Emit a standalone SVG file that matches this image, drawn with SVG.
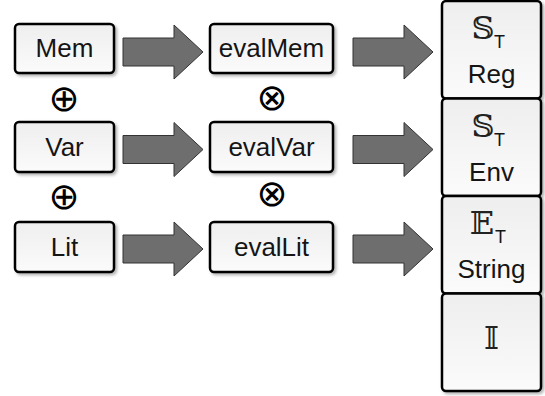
<svg xmlns="http://www.w3.org/2000/svg" width="545" height="396" viewBox="0 0 545 396">
<defs>
<linearGradient id="g" x1="0" y1="0" x2="0" y2="1">
<stop offset="0" stop-color="#eeeeee"/>
<stop offset="1" stop-color="#fbfbfb"/>
</linearGradient>
<filter id="sh" x="-10%" y="-10%" width="125%" height="130%">
<feDropShadow dx="2" dy="2" stdDeviation="1.5" flood-color="#000" flood-opacity="0.3"/>
</filter>
<path id="arr" d="M0,-14 H51 V-27 L80,0 L51,27 V14 H0 Z"/>
</defs>
<style>
.box{fill:url(#g);stroke:#000;stroke-width:2.5;filter:url(#sh)}
.lbl{font-family:"Liberation Sans",Arial,sans-serif;font-size:26px;fill:#151515;text-anchor:middle}
.sub{font-family:"Liberation Sans",Arial,sans-serif;font-size:18px;fill:#151515}
.bb{font-family:"DejaVu Serif","DejaVu Sans",serif;font-size:32px;fill:#222;text-anchor:middle}
.op{font-family:"DejaVu Sans",sans-serif;font-size:37px;fill:#000;text-anchor:middle}
.arrow{fill:#6e6e6e;stroke:#333;stroke-width:1}
</style>
<g id="connectors">
<use href="#arr" class="arrow" x="123" y="52"/>
<use href="#arr" class="arrow" x="353" y="52"/>
<use href="#arr" class="arrow" x="123" y="149.5"/>
<use href="#arr" class="arrow" x="353" y="149.5"/>
<use href="#arr" class="arrow" x="123" y="249"/>
<use href="#arr" class="arrow" x="353" y="249"/>
</g>
<g id="mem"><rect class="box" x="15" y="24" width="99" height="49" rx="4"/><text class="lbl" x="64.5" y="57">Mem</text></g>
<g id="var"><rect class="box" x="15" y="122" width="99" height="50" rx="4"/><text class="lbl" x="64.5" y="155.5">Var</text></g>
<g id="lit"><rect class="box" x="15" y="222" width="99" height="50" rx="4"/><text class="lbl" x="64.5" y="255.5">Lit</text></g>
<g id="evalMem"><rect class="box" x="210" y="24" width="123" height="49" rx="4"/><text class="lbl" x="271.5" y="57">evalMem</text></g>
<g id="evalVar"><rect class="box" x="210" y="122" width="123" height="50" rx="4"/><text class="lbl" x="271.5" y="155.5">evalVar</text></g>
<g id="evalLit"><rect class="box" x="210" y="222" width="123" height="50" rx="4"/><text class="lbl" x="271.5" y="255.5">evalLit</text></g>
<g id="ops">
<text class="op" x="64" y="111">⊕</text>
<text class="op" x="64" y="209">⊕</text>
<text class="op" x="272" y="110">⊗</text>
<text class="op" x="272" y="206">⊗</text>
</g>
<g id="reg"><rect class="box" x="442" y="1" width="99" height="97.5" rx="4"/><text class="bb" x="483" y="39">𝕊</text><text class="sub" x="494" y="48">T</text><text class="lbl" x="491.5" y="83">Reg</text></g>
<g id="env"><rect class="box" x="442" y="98.5" width="99" height="97.5" rx="4"/><text class="bb" x="483" y="136.5">𝕊</text><text class="sub" x="494" y="145.5">T</text><text class="lbl" x="491.5" y="180.5">Env</text></g>
<g id="string"><rect class="box" x="442" y="196" width="99" height="97.5" rx="4"/><text class="bb" x="482" y="234">𝔼</text><text class="sub" x="495" y="243">T</text><text class="lbl" x="491.5" y="278">String</text></g>
<g id="iota"><rect class="box" x="442" y="293.5" width="99" height="97.5" rx="4"/><text class="bb" x="491.5" y="349">𝕀</text></g>
</svg>
